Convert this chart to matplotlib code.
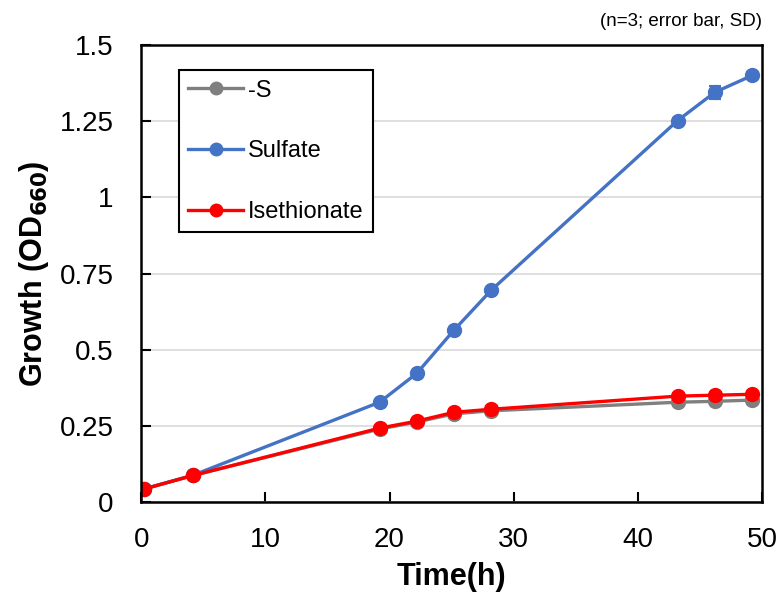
import numpy as np
import matplotlib.pyplot as plt
from matplotlib.lines import Line2D
from matplotlib.ticker import FuncFormatter

plt.rcParams['font.family'] = ['Liberation Sans', 'DejaVu Sans']

time_h = [0.2, 4.2, 19.2, 22.2, 25.2, 28.2, 43.2, 46.2, 49.2]
od_minus_s = [0.043, 0.088, 0.240, 0.263, 0.290, 0.300, 0.328, 0.331, 0.335]
od_sulfate = [0.043, 0.089, 0.328, 0.423, 0.565, 0.696, 1.252, 1.345, 1.400]
od_isethionate = [0.043, 0.088, 0.243, 0.266, 0.295, 0.305, 0.348, 0.351, 0.354]
sd_minus_s = [0.002, 0.002, 0.004, 0.003, 0.004, 0.004, 0.005, 0.005, 0.005]
sd_sulfate = [0.002, 0.003, 0.006, 0.006, 0.008, 0.008, 0.010, 0.022, 0.012]
sd_isethionate = [0.002, 0.002, 0.004, 0.004, 0.004, 0.004, 0.005, 0.005, 0.005]

series = [
    ('-S', od_minus_s, sd_minus_s, '#7f7f7f'),
    ('Sulfate', od_sulfate, sd_sulfate, '#4472c4'),
    ('Isethionate', od_isethionate, sd_isethionate, '#ff0000'),
]

fig = plt.figure(figsize=(7.8, 6), dpi=100)
ax = fig.add_axes([0.181, 0.163, 0.796, 0.762])

handles = []
for label, vals, err, col in series:
    ax.errorbar(time_h, vals, yerr=err, color=col, lw=2.4, marker='o', ms=10,
                capsize=4, elinewidth=1.5, capthick=1.5)
    handles.append(Line2D([], [], color=col, lw=2.4, marker='o', ms=9, label=label))

ax.set_xlim(0, 50)
ax.set_ylim(0, 1.5)
ax.set_xticks(np.arange(0, 51, 10))
ax.set_yticks(np.arange(0, 1.51, 0.25))
ax.yaxis.set_major_formatter(FuncFormatter(lambda v, p: '%g' % v))
ax.grid(axis='y', color='#d9d9d9', lw=1.2)
ax.set_axisbelow(True)
for s in ax.spines.values():
    s.set_linewidth(1.8)
    s.set_color('black')
ax.tick_params(axis='both', direction='in', length=7, width=1.5, labelsize=20)
ax.tick_params(axis='y', pad=20)
ax.tick_params(axis='x', pad=18)

ax.set_xlabel('Time(h)', fontsize=22, fontweight='bold', labelpad=6)
ax.set_ylabel('Growth (OD$_{\\mathbf{660}}$)', fontsize=22, fontweight='bold', labelpad=6)

leg = ax.legend(handles=handles, loc='upper left', bbox_to_anchor=(0.061, 0.945),
                fontsize=17, labelspacing=1.64, handlelength=2.3, handletextpad=0.2,
                borderpad=0.4, borderaxespad=0, fancybox=False, framealpha=1,
                edgecolor='black')
leg.get_frame().set_linewidth(1.5)

fig.text(0.977, 0.965, '(n=3; error bar, SD)', ha='right', va='center', fontsize=13.5)

fig.savefig('out.png', dpi=100)
